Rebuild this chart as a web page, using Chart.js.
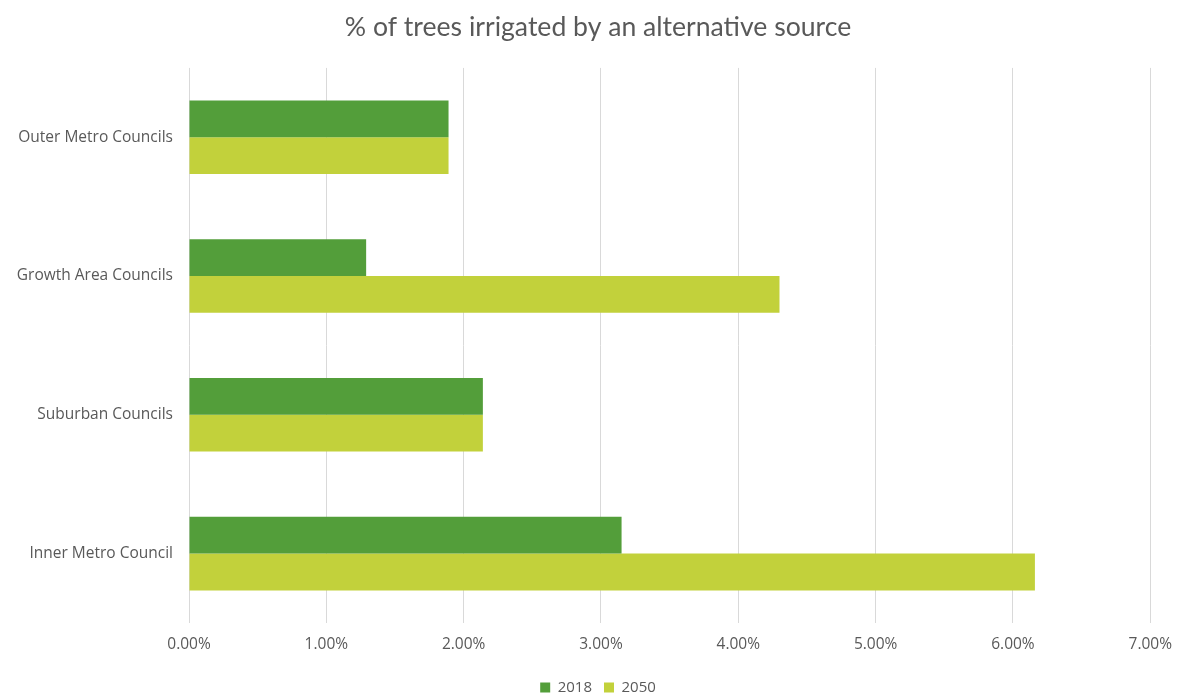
<!DOCTYPE html>
<html>
<head>
<meta charset="utf-8">
<script src="https://cdn.jsdelivr.net/npm/chart.js@4/dist/chart.umd.min.js"></script>
<style>
  html, body { margin: 0; padding: 0; background: #fff; }
  #wrap { width: 1184px; height: 693px; }
</style>
</head>
<body>
<div id="wrap"><canvas id="grafico"></canvas></div>
<script>
const categorias = ['Outer Metro Councils', 'Growth Area Councils', 'Suburban Councils', 'Inner Metro Council'];
const valores2018 = [1.89, 1.29, 2.14, 3.15];
const valores2050 = [1.89, 4.30, 2.14, 6.16];
const tituloGrafico = '% of trees irrigated by an alternative source';

const ctx = document.getElementById('grafico').getContext('2d');
new Chart(ctx, {
    type: 'bar',
    data: {
        labels: categorias,
        datasets: [
            { label: '2018', data: valores2018, backgroundColor: '#539E3A' },
            { label: '2050', data: valores2050, backgroundColor: '#C2D13B' }
        ]
    },
    options: {
        indexAxis: 'y',
        responsive: true,
        maintainAspectRatio: false,
        animation: false,
        layout: { padding: { left: 16, right: 4, top: 0, bottom: -12 } },
        datasets: { bar: { categoryPercentage: 0.53, barPercentage: 1.0 } },
        plugins: {
            title: {
                display: true,
                text: tituloGrafico,
                color: '#595959',
                font: { family: 'Lato', size: 26.6, weight: 'normal' },
                padding: { top: 11, bottom: 25 }
            },
            legend: {
                position: 'bottom',
                labels: {
                    boxWidth: 10,
                    boxHeight: 10,
                    color: '#595959',
                    font: { family: 'Open Sans', size: 15 },
                    padding: 12
                }
            },
            tooltip: { enabled: false }
        },
        scales: {
            x: {
                min: 0,
                max: 7,
                ticks: {
                    stepSize: 1,
                    color: '#595959',
                    font: { family: 'Open Sans', size: 15.5 },
                    padding: 12,
                    callback: (v) => v.toFixed(2) + '%'
                },
                grid: { color: '#D9D9D9', drawTicks: false },
                border: { display: false },
                afterFit: (scale) => { scale.height = 45; }
            },
            y: {
                ticks: {
                    color: '#595959',
                    font: { family: 'Open Sans', size: 15.5 },
                    padding: 16
                },
                grid: { display: false, drawTicks: false },
                border: { display: false },
                afterFit: (scale) => { scale.width = 173; }
            }
        }
    }
});
</script>
</body>
</html>
